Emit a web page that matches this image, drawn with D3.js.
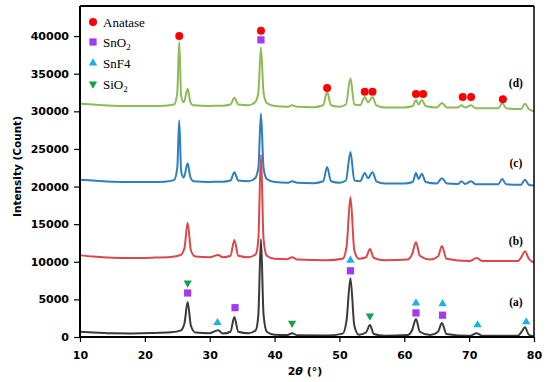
<!DOCTYPE html>
<html><head><meta charset="utf-8">
<script src="https://cdn.jsdelivr.net/npm/d3@7"></script>
<style>body{margin:0;background:#fff}svg{display:block}</style>
</head><body><svg id="c" width="550" height="382"></svg>
<script>
// ---- data ----
const xTicks = [10, 20, 30, 40, 50, 60, 70, 80];
const yTicks = [0, 5000, 10000, 15000, 20000, 25000, 30000, 35000, 40000];
const seriesNames = ["(a)", "(b)", "(c)", "(d)"];
const seriesA = [[10,700],[12,600],[15,500],[18,480],[21,520],[24,620],[25.5,850],[26.1,1800],[26.6,4650],[27.1,1500],[27.8,600],[30,500],[31.3,900],[32,450],[33.2,700],[33.8,2650],[34.4,700],[36,500],[37.1,900],[37.5,3000],[37.9,13000],[38.3,3000],[38.8,700],[40,300],[42,250],[42.7,500],[43.5,230],[48,200],[50.5,450],[51.1,2200],[51.7,7800],[52.3,1500],[53,300],[54.1,600],[54.7,1600],[55.3,400],[57,150],[60.5,250],[61.2,900],[61.8,2400],[62.4,700],[64,250],[65.2,700],[65.8,1850],[66.5,400],[70,150],[71.2,500],[72,150],[77.5,150],[78.1,700],[78.6,1300],[79.2,300],[80,100]];
const seriesB = [[10,10850],[12,10700],[15,10550],[18,10500],[21,10550],[24,10650],[25.5,10900],[26.1,11800],[26.6,15200],[27.1,11500],[27.8,10700],[30,10600],[31.3,10900],[32,10600],[33.2,10800],[33.8,12900],[34.4,10800],[36,10600],[37.1,11000],[37.5,13000],[37.9,24200],[38.3,13000],[38.8,10800],[40,10400],[42,10350],[42.7,10600],[43.5,10300],[48,10200],[50.5,10400],[51.1,12000],[51.7,18600],[52.3,11500],[53,10400],[54.1,10600],[54.7,11700],[55.3,10500],[57,10200],[60.5,10300],[61.2,11000],[61.8,12600],[62.4,10800],[64,10300],[65.2,10700],[65.8,12100],[66.5,10400],[70,10100],[71.2,10500],[72,10100],[77.5,10100],[78.1,10700],[78.6,11400],[79.2,10400],[80,9900]];
const seriesC = [[10,20900],[12,20800],[15,20650],[18,20600],[21,20600],[23,20650],[24.5,20850],[25.0,22500],[25.3,28800],[25.6,22000],[26.0,21200],[26.6,23100],[27.0,21300],[27.5,20700],[30,20600],[31,20650],[32,20650],[33.2,20800],[33.8,21900],[34.4,20800],[36,20700],[37.0,21100],[37.5,22500],[37.9,29700],[38.3,22500],[38.8,21000],[40,20600],[42,20500],[42.7,20700],[43.5,20500],[46,20450],[47.5,20700],[48.1,22600],[48.7,20700],[50,20500],[51.0,20800],[51.7,24600],[52.3,20800],[53.2,20700],[53.9,21800],[54.4,21100],[55.1,21900],[55.7,20700],[57,20400],[60,20400],[61.3,20600],[61.8,21800],[62.2,21000],[62.7,21700],[63.3,20600],[65,20400],[65.8,21100],[66.6,20400],[68.3,20350],[68.8,20700],[69.4,20350],[70.3,20700],[71.0,20300],[74.5,20300],[75.1,21000],[75.7,20300],[78,20250],[78.6,20900],[79.2,20250],[80,20150]];
const seriesD = [[10,31000],[12,30900],[15,30750],[18,30700],[21,30700],[23,30750],[24.5,30900],[25.0,32500],[25.3,39200],[25.6,32000],[26.0,31200],[26.6,33000],[27.0,31300],[27.5,30800],[30,30700],[31,30750],[32,30750],[33.2,30900],[33.8,31800],[34.4,30900],[36,30800],[37.0,31200],[37.5,32500],[37.9,38500],[38.3,32500],[38.8,31100],[40,30700],[42,30600],[42.7,30800],[43.5,30600],[46,30550],[47.5,30800],[48.1,32600],[48.7,30800],[50,30600],[51.0,30900],[51.7,34400],[52.3,30900],[53.2,30800],[53.9,31900],[54.4,31200],[55.1,31900],[55.7,30800],[57,30500],[60,30500],[61.3,30700],[61.8,31500],[62.2,30900],[62.7,31500],[63.3,30700],[65,30500],[65.8,31100],[66.6,30500],[68.3,30500],[68.8,30800],[69.4,30500],[70.3,30800],[71.0,30400],[74.5,30400],[75.1,31100],[75.7,30400],[78,30300],[78.6,31000],[79.2,30300],[80,30000]];
const anatase = [[25.3,40000],[37.9,40700],[48.1,33100],[53.9,32600],[55.1,32600],[61.8,32300],[62.9,32300],[69.0,31900],[70.3,31900],[75.2,31600]];
const sno2 = [[37.9,39500],[26.6,5850],[33.9,3900],[51.7,8800],[61.8,3200],[65.9,2900]];
const snf4 = [[31.2,1900],[51.7,10200],[61.8,4500],[65.9,4400],[71.3,1600],[78.8,2000]];
const sio2 = [[26.6,7200],[42.7,1850],[54.7,2800]];
const labelPos = [[77.2,4120],[77.2,12230],[77.2,22600],[77.2,33230]];

// ---- chart ----
const svg = d3.select("#c");
const L = 80, R = 534, T = 6, B = 337;
const x = d3.scaleLinear().domain([10, 80]).range([L, R]);
const y = d3.scaleLinear().domain([0, 44000]).range([B, T]);

const colors = ["#3a3a3a", "#d9484a", "#2f7ebf", "#8fba58"];
const all = [seriesA, seriesB, seriesC, seriesD];
const line = d3.line().x(d => x(d[0])).y(d => y(d[1])).curve(d3.curveMonotoneX);

[3,2,1,0].forEach(i => {
  svg.append("path").attr("d", line(all[i])).attr("fill", "none")
    .attr("stroke", colors[i]).attr("stroke-width", 2).attr("stroke-linejoin", "round");
});

// box
svg.append("line").attr("x1", L).attr("x2", R).attr("y1", T).attr("y2", T).attr("stroke", "#000").attr("stroke-width", 2);
svg.append("line").attr("x1", R).attr("x2", R).attr("y1", T).attr("y2", B).attr("stroke", "#000").attr("stroke-width", 1.5);

// axes
const fontTick = "DejaVu Sans, sans-serif";
const gx = svg.append("g").attr("transform", `translate(0,${B})`)
  .call(d3.axisBottom(x).tickValues(xTicks).tickFormat(d3.format("d")).tickSize(5).tickSizeOuter(0).tickPadding(9));
const gy = svg.append("g").attr("transform", `translate(${L},0)`)
  .call(d3.axisLeft(y).tickValues(yTicks).tickFormat(d3.format("d")).tickSize(6).tickSizeOuter(0).tickPadding(5));
[gx, gy].forEach(g => {
  g.select(".domain").attr("stroke", "#000").attr("stroke-width", 2);
  g.selectAll(".tick line").attr("stroke", "#000").attr("stroke-width", 1.2);
  g.selectAll(".tick text").attr("font-family", fontTick).attr("font-weight", "bold")
    .attr("font-size", 11).attr("fill", "#000");
});
gy.select(".domain").attr("d", `M0,${B}V${T}`);
gx.select(".domain").attr("d", `M${L},0H${R}`);

// axis titles
svg.append("text").attr("transform", `translate(21,${(T+B)/2 - 5}) rotate(-90)`)
  .attr("text-anchor", "middle").attr("font-family", fontTick).attr("font-weight", "bold")
  .attr("font-size", 10.5).text("Intensity (Count)");
const xt = svg.append("text").attr("x", 305).attr("y", 375).attr("text-anchor", "middle")
  .attr("font-family", fontTick).attr("font-weight", "bold").attr("font-size", 11);
xt.append("tspan").text("2");
xt.append("tspan").attr("font-style", "italic").text("θ");
xt.append("tspan").text(" (°)");

// markers
const cRed = "#ff0000", cPur = "#a23bf0", cCyan = "#1ab0e8", cGreen = "#14a050";
svg.append("g").selectAll("circle").data(anatase).join("circle")
  .attr("cx", d => x(d[0])).attr("cy", d => y(d[1])).attr("r", 4).attr("fill", cRed);
svg.append("g").selectAll("rect").data(sno2).join("rect")
  .attr("x", d => x(d[0]) - 3.6).attr("y", d => y(d[1]) - 3.6).attr("width", 7.2).attr("height", 7.2).attr("fill", cPur);
const triUp = d3.symbol().type(d3.symbolTriangle).size(30);
svg.append("g").selectAll("path").data(snf4).join("path")
  .attr("d", triUp).attr("transform", d => `translate(${x(d[0])},${y(d[1])})`).attr("fill", cCyan);
svg.append("g").selectAll("path").data(sio2).join("path")
  .attr("d", triUp).attr("transform", d => `translate(${x(d[0])},${y(d[1])}) rotate(180)`).attr("fill", cGreen);

// series labels
svg.append("g").selectAll("text").data(seriesNames).join("text")
  .attr("x", (d, i) => x(labelPos[i][0])).attr("y", (d, i) => y(labelPos[i][1]))
  .attr("text-anchor", "middle").attr("font-family", "Liberation Serif, serif").attr("font-weight", "bold")
  .attr("font-size", 11.5).text(d => d);

// legend
const lg = svg.append("g").attr("font-family", "Liberation Serif, serif").attr("font-size", 13);
const lx = 93, ly = [22, 42, 63, 84];
lg.append("circle").attr("cx", lx).attr("cy", ly[0]).attr("r", 4).attr("fill", cRed);
lg.append("rect").attr("x", lx - 3.6).attr("y", ly[1] - 3.6).attr("width", 7.2).attr("height", 7.2).attr("fill", cPur);
lg.append("path").attr("d", triUp).attr("transform", `translate(${lx},${ly[2]})`).attr("fill", cCyan);
lg.append("path").attr("d", triUp).attr("transform", `translate(${lx},${ly[3]}) rotate(180)`).attr("fill", cGreen);
lg.append("text").attr("x", 103).attr("y", ly[0] + 4.5).text("Anatase");
const t1 = lg.append("text").attr("x", 103).attr("y", ly[1] + 4.5);
t1.append("tspan").text("SnO");
t1.append("tspan").attr("font-size", 9).attr("dy", 3).text("2");
lg.append("text").attr("x", 103).attr("y", ly[2] + 4.5).text("SnF4");
const t2 = lg.append("text").attr("x", 103).attr("y", ly[3] + 4.5);
t2.append("tspan").text("SiO");
t2.append("tspan").attr("font-size", 9).attr("dy", 3).text("2");
</script></body></html>
